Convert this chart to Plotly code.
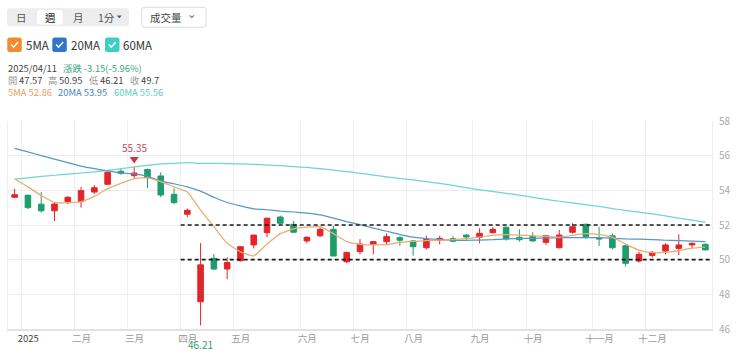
import plotly.graph_objects as go

# ---------------- data (weekly candles, index 0..52) ----------------
week_idx = list(range(53))
opens = [53.6, 53.72, 53.2, 52.82, 53.35, 53.35, 53.9, 54.35, 55.1, 54.85,
         55.2, 54.83, 53.77, 52.62, 47.57, 50.08, 49.46, 49.94, 50.85, 51.56,
         52.46, 52.04, 51.08, 51.38, 51.75, 49.88, 50.46, 50.88, 51.04, 51.27,
         51.08, 50.69, 51.13, 51.21, 51.42, 51.29, 51.56, 51.87, 51.29, 51.33,
         51.0, 50.69, 51.58, 52.04, 51.25, 51.38, 50.8, 49.92, 50.25, 50.5,
         50.65, 50.85, 50.88]
highs = [54.1, 53.75, 53.9, 53.32, 53.67, 54.2, 54.3, 55.08, 55.25, 55.35,
         55.25, 55.04, 54.12, 52.95, 50.95, 50.33, 50.13, 50.75, 51.42, 52.42,
         52.54, 52.23, 51.35, 51.87, 51.96, 50.45, 51.19, 51.08, 51.52, 51.35,
         51.12, 51.38, 51.38, 51.35, 51.48, 51.81, 51.87, 51.92, 51.75, 51.58,
         51.42, 51.71, 52.1, 52.08, 51.9, 51.5, 50.85, 50.46, 50.5, 50.95,
         51.46, 51.0, 50.95]
lows = [53.55, 52.92, 52.72, 52.23, 53.2, 53.0, 53.8, 54.3, 54.9, 54.67,
        54.12, 53.6, 53.2, 52.46, 46.21, 49.4, 48.87, 49.9, 50.65, 51.3,
        52.1, 51.58, 50.94, 51.29, 50.21, 49.79, 50.31, 50.31, 50.88, 50.8,
        50.23, 50.6, 50.88, 51.0, 51.08, 50.94, 51.5, 51.1, 51.04, 51.04,
        50.85, 50.65, 51.5, 51.19, 50.79, 50.6, 49.6, 49.83, 50.12, 50.31,
        50.27, 50.65, 50.56]
closes = [53.75, 53.0, 52.82, 53.21, 53.6, 53.98, 54.15, 55.04, 54.98, 55.0,
          54.73, 53.73, 53.29, 52.85, 49.7, 49.46, 49.83, 50.75, 51.42, 52.39,
          52.1, 51.58, 51.29, 51.75, 50.21, 50.42, 50.9, 51.04, 51.33, 51.12,
          50.75, 51.17, 51.23, 51.06, 51.31, 51.52, 51.75, 51.19, 51.15, 51.08,
          51.38, 51.42, 51.9, 51.33, 51.2, 50.69, 49.79, 50.31, 50.42, 50.85,
          50.85, 50.94, 50.56]
ma5 = [54.65, 54.2, 53.7, 53.3, 53.28, 53.35, 53.65, 54.1, 54.4, 54.68,
       54.72, 54.5, 54.2, 53.9, 52.86, 51.9, 50.95, 50.45, 50.22, 50.9,
       51.5, 51.78, 51.88, 51.9, 51.5, 51.05, 50.88, 50.85, 50.87, 51.0,
       51.05, 51.1, 51.12, 51.15, 51.22, 51.3, 51.4, 51.45, 51.42, 51.38,
       51.35, 51.3, 51.4, 51.5, 51.45, 51.3, 50.9, 50.55, 50.4, 50.42,
       50.52, 50.66, 50.72]
ma20 = [56.42, 56.22, 56.0, 55.8, 55.6, 55.4, 55.25, 55.12, 55.0, 54.95,
        54.8, 54.55, 54.38, 54.2, 53.95, 53.6, 53.3, 53.1, 52.93, 52.88,
        52.8, 52.75, 52.68, 52.58, 52.4, 52.2, 52.02, 51.82, 51.64, 51.45,
        51.3, 51.22, 51.15, 51.12, 51.12, 51.13, 51.15, 51.2, 51.22, 51.23,
        51.25, 51.26, 51.27, 51.27, 51.27, 51.24, 51.2, 51.18, 51.15, 51.12,
        51.1, 51.07, 51.04]
ma60 = [54.65, 54.72, 54.8, 54.87, 54.93, 55.0, 55.07, 55.15, 55.25, 55.35,
        55.44, 55.52, 55.56, 55.6, 55.56, 55.56, 55.54, 55.52, 55.5, 55.46,
        55.42, 55.37, 55.32, 55.25, 55.17, 55.08, 54.98, 54.88, 54.78, 54.68,
        54.6, 54.5, 54.4, 54.28, 54.15, 54.03, 53.93, 53.83, 53.72, 53.6,
        53.48, 53.37, 53.27, 53.17, 53.07, 52.95, 52.84, 52.74, 52.64, 52.52,
        52.4, 52.28, 52.15]
month_pos = [0.5, 4.5, 8.5, 12.5, 16.5, 21.5, 25.5, 29.5, 34.5, 38.5, 43.5, 47.5]
month_labels = ["2025", "二月", "三月", "四月", "五月", "六月", "七月", "八月",
                "九月", "十月", "十一月", "十二月"]
y_ticks = [46, 48, 50, 52, 54, 56, 58]
support_levels = [52, 50]
high_mark = (9, 55.35)
low_mark = (14, 46.21)

# ---------------- styling ----------------
CJK = "Noto Sans CJK TC, Noto Sans, sans-serif"
RED = "#E3242B"
GREEN = "#1E9D6C"
C5, C20, C60 = "#E9AC72", "#5B95C6", "#6ED6CF"
W, H = 740, 354
PL, PR, PT, PB = 8, 712, 121, 329


def px(x):
    return (x - PL) / (PR - PL)


def py(y):
    return (PB - y) / (PB - PT)


def rrect(x0, y0, x1, y1, r):
    # rounded rectangle in pixel coords -> paper path
    rx = r / (PR - PL)
    ry = r / (PB - PT)
    X0, X1 = px(x0), px(x1)
    Y0, Y1 = py(y0), py(y1)  # Y0 top (larger), Y1 bottom
    return (f"M {X0+rx},{Y0} L {X1-rx},{Y0} Q {X1},{Y0} {X1},{Y0-ry} "
            f"L {X1},{Y1+ry} Q {X1},{Y1} {X1-rx},{Y1} L {X0+rx},{Y1} "
            f"Q {X0},{Y1} {X0},{Y1+ry} L {X0},{Y0-ry} Q {X0},{Y0} {X0+rx},{Y0} Z")


def poly(points, close=False):
    s = "M " + " L ".join(f"{px(a)},{py(b)}" for a, b in points)
    return s + (" Z" if close else "")


fig = go.Figure()
fig.add_trace(go.Candlestick(
    x=week_idx, open=opens, high=highs, low=lows, close=closes,
    increasing=dict(line=dict(color=RED, width=1), fillcolor=RED),
    decreasing=dict(line=dict(color=GREEN, width=1), fillcolor=GREEN),
    whiskerwidth=0, showlegend=False, hoverinfo="skip"))
for vals, col in [(ma60, C60), (ma20, C20), (ma5, C5)]:
    fig.add_trace(go.Scatter(x=week_idx, y=vals, mode="lines",
                             line=dict(color=col, width=1.25, shape="spline", smoothing=0.4),
                             showlegend=False, hoverinfo="skip"))

shapes = []
# support / resistance dashed lines
for lv in support_levels:
    shapes.append(dict(type="line", xref="x", yref="y", x0=12.5, x1=52.5, y0=lv, y1=lv,
                       line=dict(color="#1a1a1a", width=1.6, dash="4px,3px")))
# high / low markers
shapes.append(dict(type="path", xref="x", yref="y", xsizemode="pixel", ysizemode="pixel",
                   xanchor=high_mark[0], yanchor=high_mark[1],
                   path="M -4.5,10 L 4.5,10 L 0,3.5 Z", fillcolor="#D8313E", line=dict(width=0)))
shapes.append(dict(type="path", xref="x", yref="y", xsizemode="pixel", ysizemode="pixel",
                   xanchor=low_mark[0], yanchor=low_mark[1],
                   path="M -4.5,-10 L 4.5,-10 L 0,-3.5 Z", fillcolor="#2E9E70", line=dict(width=0)))

# toolbar
shapes.append(dict(type="path", xref="paper", yref="paper", path=rrect(7, 8.3, 129, 26.3, 3),
                   fillcolor="#EDEDED", line=dict(width=0)))
shapes.append(dict(type="path", xref="paper", yref="paper", path=rrect(37, 10, 62.7, 24.5, 2.5),
                   fillcolor="#FFFFFF", line=dict(width=0)))
shapes.append(dict(type="path", xref="paper", yref="paper",
                   path=poly([(116.8, 15.5), (121.8, 15.5), (119.3, 18.3)], close=True),
                   fillcolor="#555555", line=dict(width=0)))
shapes.append(dict(type="path", xref="paper", yref="paper", path=rrect(141.7, 7.3, 206, 27.3, 3),
                   fillcolor="#FFFFFF", line=dict(color="#DDDDDD", width=1)))
shapes.append(dict(type="path", xref="paper", yref="paper",
                   path=poly([(189.5, 15.3), (191.8, 17.5), (194.1, 15.3)]),
                   line=dict(color="#777777", width=1.1)))

# legend checkboxes
boxes = [(7.3, "#F08C2E", "5MA", 24.5), (52.3, "#2F77C8", "20MA", 70), (105, "#3ECFC4", "60MA", 122.3)]
annotations = []
for bx, col, lab, tx in boxes:
    shapes.append(dict(type="path", xref="paper", yref="paper", path=rrect(bx, 37.5, bx + 14.5, 52, 2.5),
                       fillcolor=col, line=dict(width=0)))
    shapes.append(dict(type="path", xref="paper", yref="paper",
                       path=poly([(bx + 3.8, 44.6), (bx + 6.3, 47.2), (bx + 10.8, 42.0)]),
                       line=dict(color="#FFFFFF", width=1.5)))
    annotations.append(dict(x=px(tx), y=py(45), xref="paper", yref="paper", text=lab,
                            showarrow=False, xanchor="left", yanchor="middle", borderpad=0,
                            font=dict(family=CJK, size=11.5, color="#333333")))

# toolbar texts
for t, x, c in [("日", 21, "#555555"), ("週", 50, "#222222"), ("月", 78, "#555555"),
                ("1分", 106.5, "#555555"), ("成交量", 165.5, "#444444")]:
    annotations.append(dict(x=px(x), y=py(17), xref="paper", yref="paper", text=t,
                            showarrow=False, xanchor="center", yanchor="middle", borderpad=0,
                            font=dict(family=CJK, size=10.5, color=c)))

# info lines, each item placed at its own x
info_items = [
    (7, 68.3, "2025/04/11", "#444444"),
    (61.7, 68.3, "漲跌 -3.15(-5.96%)", "#3AA57A"),
    (7, 80.4, "開", "#999999"), (18.3, 80.4, "47.57", "#444444"),
    (47, 80.4, "高", "#999999"), (58, 80.4, "50.95", "#444444"),
    (88, 80.4, "低", "#999999"), (99, 80.4, "46.21", "#444444"),
    (128.5, 80.4, "收", "#999999"), (140, 80.4, "49.7", "#444444"),
    (7, 92.5, "5MA 52.86", "#E8A060"),
    (57, 92.5, "20MA 53.95", "#4A86BD"),
    (112.7, 92.5, "60MA 55.56", "#5CCBC2"),
]
for x, y, t, c in info_items:
    annotations.append(dict(x=px(x), y=py(y), xref="paper", yref="paper", text=t,
                            showarrow=False, xanchor="left", yanchor="middle", borderpad=0,
                            font=dict(family=CJK, size=9.4, color=c)))

annotations.append(dict(x=high_mark[0], y=high_mark[1], xref="x", yref="y", text=f"{high_mark[1]:.2f}",
                        showarrow=False, yshift=19, borderpad=0,
                        font=dict(family=CJK, size=10, color="#C44A5C")))
annotations.append(dict(x=low_mark[0], y=low_mark[1], xref="x", yref="y", text=f"{low_mark[1]:.2f}",
                        showarrow=False, yshift=-19, borderpad=0,
                        font=dict(family=CJK, size=10, color="#2E9E70")))

ticktext = [f"<span style='color:#444'>{m}</span>" if i == 0 else m for i, m in enumerate(month_labels)]

fig.update_layout(
    width=W, height=H,
    margin=dict(l=PL, r=W - PR, t=PT, b=H - PB),
    paper_bgcolor="#FFFFFF", plot_bgcolor="#FFFFFF",
    shapes=shapes, annotations=annotations,
    boxgap=0.4,
    xaxis=dict(range=[-0.5, 52.5], tickmode="array", tickvals=month_pos, ticktext=ticktext,
               ticklabelshift=7, showgrid=True, gridcolor="#F0F0F0", gridwidth=1,
               showline=True, linecolor="#E2E2E2", linewidth=1.5, zeroline=False,
               ticks="", rangeslider=dict(visible=False), fixedrange=True,
               tickfont=dict(family=CJK, size=9.5, color="#999999")),
    yaxis=dict(range=[46, 58], side="right", tickmode="array", tickvals=y_ticks,
               ticktext=[str(v) for v in y_ticks], showgrid=True, gridcolor="#EBEBEB",
               gridwidth=1, zeroline=False, showline=True, mirror=True, linecolor="#EEEEEE",
               ticks="", ticklabelstandoff=4,
               tickfont=dict(family=CJK, size=10, color="#AAAAAA")),
)

fig.write_html("out.html")
